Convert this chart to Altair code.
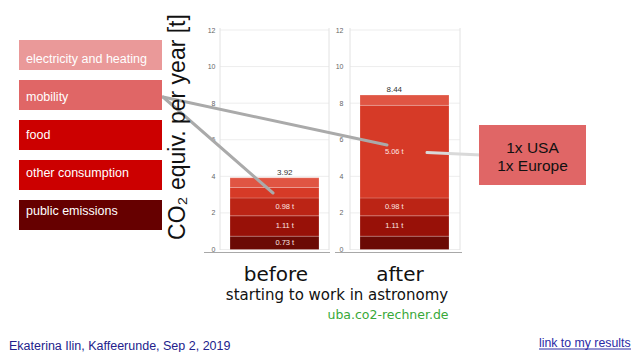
import altair as alt
import pandas as pd

# ---------------- data ----------------
stages = ["before", "after"]
categories = ["electricity and heating", "mobility", "food", "other consumption", "public emissions"]
values_before = [0.53, 0.57, 0.98, 1.11, 0.73]
values_after = [0.56, 5.06, 0.98, 1.11, 0.73]
show_label_before = [False, False, True, True, True]
show_label_after = [False, True, True, True, False]
y_ticks = [0, 2, 4, 6, 8, 10, 12]
annotation_lines = ["1x USA", "1x Europe"]
y_title = "CO\u2082 equiv. per year [t]"
subtitle = "starting to work in astronomy"
source = "uba.co2-rechner.de"
footer = "Ekaterina Ilin, Kaffeerunde, Sep 2, 2019"
link_text = "link to my results"

# ---------------- styles ----------------
bar_colors = ["#e05543", "#d63a27", "#bb2415", "#981108", "#6b0a05"]
legend_colors = ["#ea9999", "#e06666", "#cc0000", "#cc0000", "#660000"]

# ---------------- layout (page pixel coordinates) ----------------
M = 8
W, H = 624, 344
panels = {"before": (220, 329), "after": (350, 460)}
panel_top, panel_bottom = 28, 250
base_lines = {"before": (204, 330), "after": (335, 462)}
base_line_y = 252.5

PX = alt.Scale(domain=[M, M + W], range=[0, W], nice=False, zero=False)
PY = alt.Scale(domain=[M, M + H], range=[0, H], nice=False, zero=False)
TY = alt.Scale(domain=[0, 12], range=[249.5 - M, 30 - M], nice=False, zero=False)
XB = alt.Scale(domain=stages, range=[230 - M, 449 - M], paddingInner=0.3154, paddingOuter=0)
LEG_Y = alt.Scale(domain=categories, range=[40 - M, 230 - M], paddingInner=0.25, paddingOuter=0)

# ---------------- derived tables ----------------
rows = []
for stage, vals, flags in [("before", values_before, show_label_before),
                           ("after", values_after, show_label_after)]:
    base = 0.0
    for cat, v, f in reversed(list(zip(categories, vals, flags))):
        rows.append(dict(stage=stage, category=cat, value=v, y0=base, y1=base + v,
                         mid=base + v / 2, label=(f"{v:.2f} t" if f else "")))
        base += v
bars_df = pd.DataFrame(rows)
totals_df = bars_df.groupby("stage", sort=False)["value"].sum().reset_index()
totals_df["label"] = totals_df["value"].map(lambda v: f"{v:.2f}")

grid_rows = []
for stage, (gx0, gx1) in panels.items():
    for t in y_ticks:
        grid_rows.append(dict(stage=stage, t=t, gx0=gx0, gx1=gx1))
grid_df = pd.DataFrame(grid_rows)

frame_df = pd.DataFrame(
    [dict(x=x, x2=x, y=panel_top, y2=panel_bottom, c="#e2e2e2") for (a, b) in panels.values() for x in (a, b)]
    + [dict(x=a, x2=b, y=base_line_y, y2=base_line_y, c="#a8a8a8") for (a, b) in base_lines.values()]
)

legend_df = pd.DataFrame(dict(category=categories))

connectors_df = pd.DataFrame([
    dict(x=163, y=97, x2=273, y2=193, c="#aaaaaa"),
    dict(x=163, y=97, x2=387, y2=145, c="#aaaaaa"),
    dict(x=427, y=152.5, x2=481, y2=155, c="#d9d9d9"),
])

annot_box_df = pd.DataFrame([dict(x=479, x2=586, y=125, y2=185)])
annot_text_df = pd.DataFrame(dict(text=annotation_lines, x=[532.5, 532.5], y=[153, 170.5]))

stage_text_df = pd.DataFrame(dict(text=stages, x=[276, 400], y=[281, 281]))
subtitle_df = pd.DataFrame([dict(text=subtitle, x=337, y=300)])
source_df = pd.DataFrame([dict(text=source, x=388, y=319)])
ytitle_df = pd.DataFrame([dict(text=y_title, x=185, y=127)])
footer_df = pd.DataFrame([dict(text=footer, x=9, y=349.5)])
link_df = pd.DataFrame([dict(text=link_text, x=539, y=346.5)])
underline_df = pd.DataFrame([dict(x=539, x2=631, y=349, y2=349)])


def pxy(df, **extra):
    return dict(
        x=alt.X("x:Q", scale=PX, axis=None),
        y=alt.Y("y:Q", scale=PY, axis=None),
        **extra,
    )


layers = []

# gridlines + per-panel axes
for stage, offset, pad in [("before", -(220 - M), 5), ("after", -(350 - M), 7)]:
    layers.append(
        alt.Chart(grid_df[grid_df.stage == stage]).mark_rule(color="#ededed", strokeWidth=1).encode(
            x=alt.X("gx0:Q", scale=PX, axis=None),
            x2="gx1:Q",
            y=alt.Y("t:Q", scale=TY, axis=alt.Axis(
                orient="left", offset=offset, values=y_ticks, domain=False, ticks=False,
                grid=False, title=None, labelPadding=pad, labelFontSize=7,
                labelColor="#666666", labelFont="Liberation Sans")),
        )
    )

# panel frames and base lines
layers.append(
    alt.Chart(frame_df).mark_rule(strokeWidth=1).encode(
        x=alt.X("x:Q", scale=PX, axis=None), x2="x2:Q",
        y=alt.Y("y:Q", scale=PY, axis=None), y2="y2:Q",
        color=alt.Color("c:N", scale=None, legend=None),
    )
)

# stacked bars
layers.append(
    alt.Chart(bars_df).mark_bar(stroke="white", strokeOpacity=0.25, strokeWidth=0.8).encode(
        x=alt.X("stage:N", scale=XB, axis=None),
        y=alt.Y("y0:Q", scale=TY, axis=None), y2="y1:Q",
        color=alt.Color("category:N", scale=alt.Scale(domain=categories, range=bar_colors), legend=None),
    )
)

# segment labels
layers.append(
    alt.Chart(bars_df).mark_text(fontSize=7.5, color="#fde6e2", font="Liberation Sans", baseline="middle").encode(
        x=alt.X("stage:N", scale=XB, axis=None),
        y=alt.Y("mid:Q", scale=TY, axis=None),
        text="label:N",
    )
)

# totals
layers.append(
    alt.Chart(totals_df).mark_text(fontSize=8, color="#333333", font="Liberation Sans",
                                   baseline="alphabetic", dy=-3).encode(
        x=alt.X("stage:N", scale=XB, axis=None),
        y=alt.Y("value:Q", scale=TY, axis=None),
        text="label:N",
    )
)

# connector lines
layers.append(
    alt.Chart(connectors_df).mark_rule(strokeWidth=3, strokeCap="round").encode(
        x=alt.X("x:Q", scale=PX, axis=None), x2="x2:Q",
        y=alt.Y("y:Q", scale=PY, axis=None), y2="y2:Q",
        color=alt.Color("c:N", scale=None, legend=None),
    )
)

# legend boxes
layers.append(
    alt.Chart(legend_df).mark_rect().encode(
        x=alt.value(19 - M), x2=alt.value(162 - M),
        y=alt.Y("category:N", scale=LEG_Y, axis=None),
        color=alt.Color("category:N", scale=alt.Scale(domain=categories, range=legend_colors), legend=None),
    )
)
layers.append(
    alt.Chart(legend_df).mark_text(align="left", baseline="middle", fontSize=12.5,
                                   font="Liberation Sans", color="white").encode(
        x=alt.value(26 - M),
        y=alt.Y("category:N", scale=LEG_Y, axis=None),
        text="category:N",
    )
)

# annotation box
layers.append(
    alt.Chart(annot_box_df).mark_rect(color="#e06666").encode(
        x=alt.X("x:Q", scale=PX, axis=None), x2="x2:Q",
        y=alt.Y("y:Q", scale=PY, axis=None), y2="y2:Q",
    )
)
layers.append(
    alt.Chart(annot_text_df).mark_text(align="center", baseline="alphabetic", fontSize=15.5,
                                       font="Liberation Sans", color="#111111").encode(
        **pxy(annot_text_df), text="text:N")
)

# texts
layers.append(
    alt.Chart(stage_text_df).mark_text(align="center", baseline="alphabetic", fontSize=20,
                                       font="DejaVu Sans", color="#111111").encode(
        **pxy(stage_text_df), text="text:N")
)
layers.append(
    alt.Chart(subtitle_df).mark_text(align="center", baseline="alphabetic", fontSize=15,
                                     font="DejaVu Sans", color="#111111").encode(
        **pxy(subtitle_df), text="text:N")
)
layers.append(
    alt.Chart(source_df).mark_text(align="center", baseline="alphabetic", fontSize=12.5,
                                   font="DejaVu Sans", color="#38a838").encode(
        **pxy(source_df), text="text:N")
)
layers.append(
    alt.Chart(ytitle_df).mark_text(align="center", baseline="alphabetic", fontSize=23, angle=270,
                                   font="Liberation Sans", color="#111111").encode(
        **pxy(ytitle_df), text="text:N")
)
layers.append(
    alt.Chart(footer_df).mark_text(align="left", baseline="alphabetic", fontSize=12.5,
                                   font="Liberation Sans", color="#22228c").encode(
        **pxy(footer_df), text="text:N")
)
layers.append(
    alt.Chart(link_df).mark_text(align="left", baseline="alphabetic", fontSize=12.3,
                                 font="Liberation Sans", color="#2a2aa6").encode(
        **pxy(link_df), text="text:N")
)
layers.append(
    alt.Chart(underline_df).mark_rule(color="#2a2aa6", strokeWidth=1).encode(
        x=alt.X("x:Q", scale=PX, axis=None), x2="x2:Q",
        y=alt.Y("y:Q", scale=PY, axis=None), y2="y2:Q",
    )
)

chart = alt.layer(*layers).resolve_scale(
    x="independent", y="independent", color="independent"
).properties(
    width=W, height=H, padding=0, autosize=alt.AutoSizeParams(type="none"),
    background="white",
).configure_view(stroke=None)

chart.save("out.html", embed_options={"renderer": "svg", "actions": False})
